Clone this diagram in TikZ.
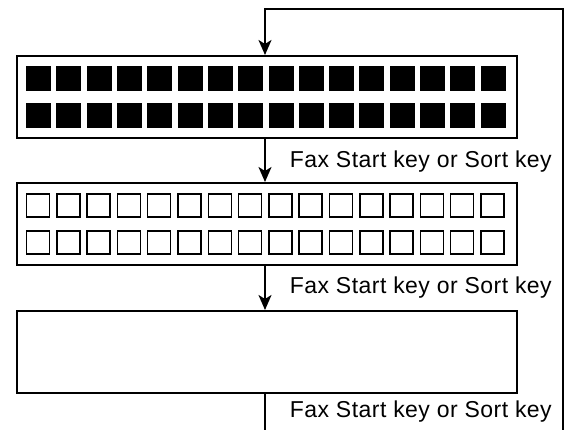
\documentclass[tikz,border=0pt]{standalone}
\usepackage{fontspec}
\setmainfont{Liberation Sans}
\newfontfamily\keyfont[LetterSpace=2]{Liberation Sans}
\usetikzlibrary{arrows.meta}
\begin{document}
\begin{tikzpicture}[x=1pt,y=-1pt,line width=1.8pt,
  panel/.style={draw,minimum width=500pt,minimum height=82pt,inner sep=0pt,anchor=north west},
  keylabel/.style={anchor=base west,inner sep=0pt,font=\keyfont\fontsize{23}{27}\selectfont},
  arr/.style={-{Stealth[length=15pt,width=13pt,inset=4pt]}},
  fullsq/.style={fill=black,draw=black,line width=0.8pt},
  emptysq/.style={fill=white,draw=black,line width=1.5pt}]
\clip (0,0) rectangle (567,430);
\node[panel] (b1) at (16,55) {};
\node[panel] (b2) at (16,182) {};
\node[panel] (b3) at (16,310) {};
\foreach \i in {0,...,15}{
  \pgfmathsetmacro{\xx}{26.5+30.3*\i}
  \draw[fullsq] (\xx,66) rectangle ++(24,24);
  \draw[fullsq] (\xx,103) rectangle ++(24,24);
  \draw[emptysq] (\xx,194) rectangle ++(23,23);
  \draw[emptysq] (\xx,231) rectangle ++(23,23);
}
\coordinate (t1) at (265,55);
\node[keylabel] (l1) at (289,168) {Fax Start key or Sort key};
\node[keylabel] (l2) at (289,293) {Fax Start key or Sort key};
\node[keylabel] (l3) at (289,417) {Fax Start key or Sort key};
\draw[arr] (b1.south -| t1) -- (b2.north -| t1);
\draw[arr] (b2.south -| t1) -- (b3.north -| t1);
\coordinate (lb) at (265,450);
\coordinate (rt) at (563,9);
\draw[arr] (b3.south -| t1) -- (lb) -| (rt) -| (t1);
\end{tikzpicture}
\end{document}
